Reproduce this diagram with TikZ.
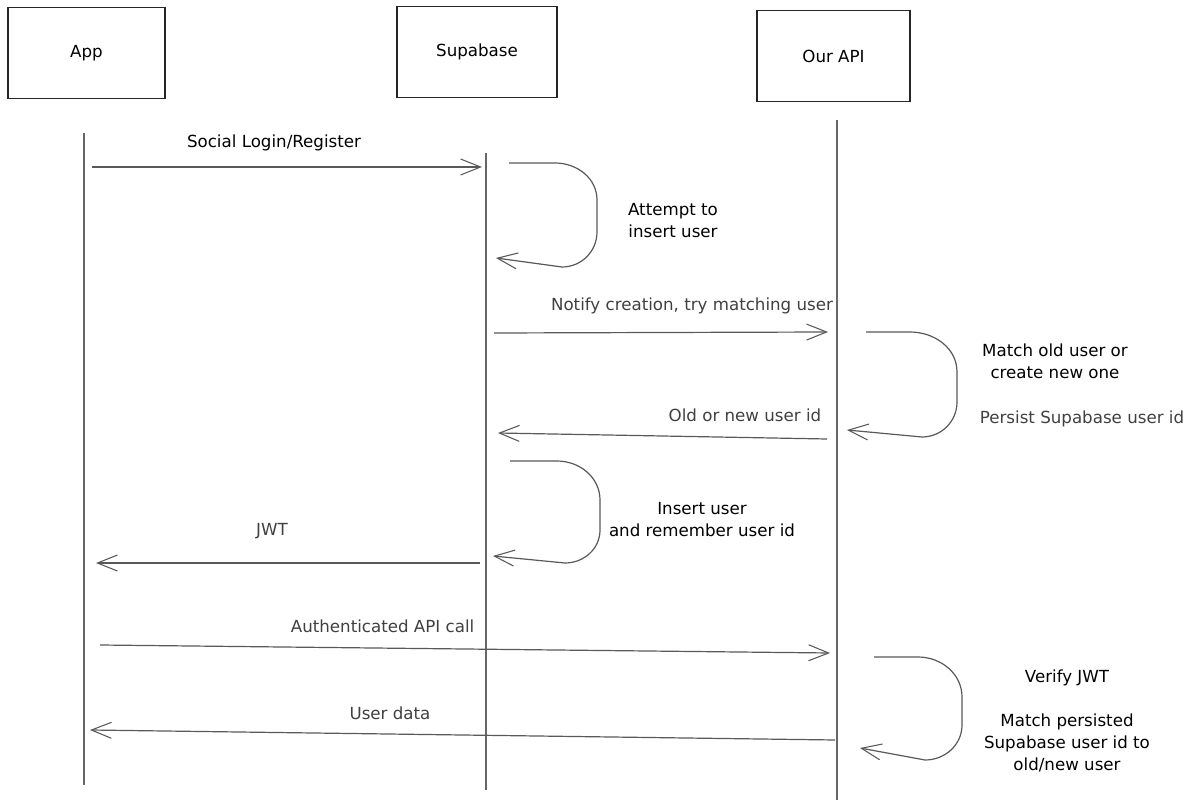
\documentclass[tikz,border=0pt]{standalone}
\usepackage{fontspec}
\setmainfont{DejaVu Sans}
\usetikzlibrary{arrows.meta}
\begin{document}
\begin{tikzpicture}[x=0.75pt,y=-0.75pt,
  actor/.style={draw=black!85,line width=1.1pt,minimum width=#1,minimum height=68pt,inner sep=0pt,font=\fontsize{12.5}{15}\selectfont},
  lifeline/.style={draw=black!60,line width=0.9pt},
  msg/.style={draw=black!65,line width=0.9pt,-{Straight Barb[length=15pt,width=12pt,line width=0.8pt]}},
  note/.style={font=\fontsize{12.5}{16.5}\selectfont,align=center,text=black},
  lbl/.style={font=\fontsize{12.5}{16.5}\selectfont,text=black!75},
]
\fill[white] (0,0) rectangle (1200,809);
\useasboundingbox (0,0) rectangle (1200,809);

% actors
\node[actor=117.75pt] (app) at (86.5,53) {App};
\node[actor=120pt] (supa) at (477,52) {Supabase};
\node[actor=114.75pt] (api) at (833.5,56) {Our API};

% lifelines
\coordinate (appT) at (84,133);  \coordinate (appB) at (84,785);
\coordinate (supT) at (486,153); \coordinate (supB) at (486,790);
\coordinate (apiT) at (837,120); \coordinate (apiB) at (837,800);
\draw[lifeline] (appT) -- (appB);
\draw[lifeline] (supT) -- (supB);
\draw[lifeline] (apiT) -- (apiB);

% message end points
\coordinate (m1a) at (92,167);  \coordinate (m1b) at (482,167);
\coordinate (l1a) at (509,163); \coordinate (l1b) at (496,258);
\coordinate (m2a) at (494,333); \coordinate (m2b) at (828,332);
\coordinate (l2a) at (866,332); \coordinate (l2b) at (847,430);
\coordinate (m3a) at (827,439); \coordinate (m3b) at (498,433);
\coordinate (l3a) at (510,461); \coordinate (l3b) at (493,556);
\coordinate (m4a) at (480,563); \coordinate (m4b) at (96,563);
\coordinate (m5a) at (100,645); \coordinate (m5b) at (830,653);
\coordinate (l4a) at (874,657); \coordinate (l4b) at (860,748);
\coordinate (m6a) at (835,740); \coordinate (m6b) at (90,730);

% messages
\draw[msg] (m1a) -- (m1b);
\draw[msg] (l1a) -- (555,163) to[out=0,in=90] (597,200) -- (597,232) to[out=-90,in=0] (562,267) -- (l1b);
\draw[msg] (m2a) -- (m2b);
\draw[msg] (l2a) -- (910,332) to[out=0,in=90] (957,372) -- (957,402) to[out=-90,in=0] (922,437) -- (l2b);
\draw[msg] (m3a) -- (m3b);
\draw[msg] (l3a) -- (557,461) to[out=0,in=90] (600,500) -- (600,530) to[out=-90,in=0] (565,563) -- (l3b);
\draw[msg] (m4a) -- (m4b);
\draw[msg] (m5a) -- (m5b);
\draw[msg] (l4a) -- (918,657) to[out=0,in=90] (962,697) -- (962,725) to[out=-90,in=0] (925,760) -- (l4b);
\draw[msg] (m6a) -- (m6b);

% labels
\node[note] (t1) at (274,143) {Social Login/Register};
\node[note] (t2) at (673,221) {Attempt to\\insert user};
\node[lbl] (t3) at (692,306) {Notify creation, try matching user};
\node[note] (t4) at (1055,361) {Match old user or\\create new one};
\node[lbl,anchor=east] (t5) at (826,415) {Old or new user id};
\node[lbl] (t6) at (1082,419) {Persist Supabase user id};
\node[note] (t7) at (702,520) {Insert user\\and remember user id};
\node[lbl] (t8) at (272,531) {JWT};
\node[lbl,anchor=east] (t9) at (479,626) {Authenticated API call};
\node[lbl] (t10) at (390,713) {User data};
\node[note] (t11) at (1067,678) {Verify JWT};
\node[note] (t12) at (1067,743) {Match persisted\\Supabase user id to\\old/new user};
\end{tikzpicture}
\end{document}
